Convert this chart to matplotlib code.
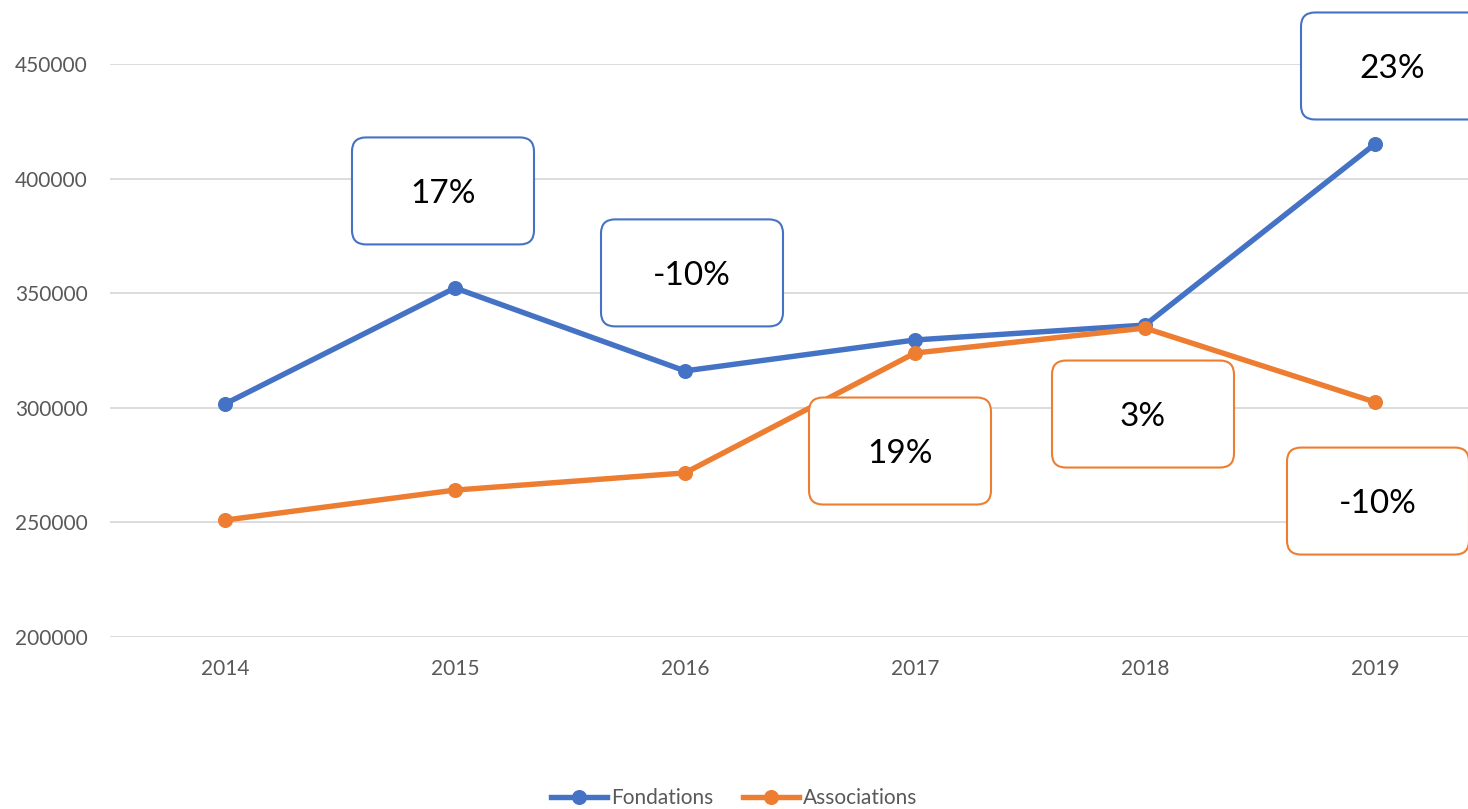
import numpy as np
import matplotlib.pyplot as plt
from matplotlib.patches import FancyBboxPatch
from matplotlib.transforms import IdentityTransform

years = ['2014', '2015', '2016', '2017', '2018', '2019']
fondations = [301700, 352300, 316100, 329600, 336100, 415100]
associations = [251000, 264100, 271600, 323900, 334800, 302500]
labels_fond = [None, '17%', '-10%', None, None, '23%']
labels_asso = [None, None, None, '19%', '3%', '-10%']

# position des bulles (pixels, par rapport au point)
off_fond = [None, (-12, 97), (7, 98), None, None, (17, 78)]
off_asso = [None, None, None, (-15, -98), (-2, -86), (3, -99)]

blue = '#4472C4'
orange = '#ED7D31'

plt.rcParams['font.family'] = ['Lato', 'DejaVu Sans']

fig = plt.figure(figsize=(14.68, 8.09), dpi=100)
ax = fig.add_axes([110 / 1468, 172 / 809, 1380 / 1468, 573 / 809])

x = np.arange(len(years))
ax.plot(x, fondations, color=blue, lw=3.9, marker='o', ms=9.8,
        label='Fondations', zorder=3, clip_on=False)
ax.plot(x, associations, color=orange, lw=3.9, marker='o', ms=9.8,
        label='Associations', zorder=3, clip_on=False)

ax.set_xlim(-0.5, 5.5)
ax.set_ylim(200000, 450000)
ax.set_xticks(x)
ax.set_xticklabels(years)
ax.set_yticks(range(200000, 450001, 50000))
ax.grid(axis='y', color='#D9D9D9', lw=1.3)
ax.set_axisbelow(True)
for s in ax.spines.values():
    s.set_visible(False)
ax.tick_params(axis='both', length=0, labelsize=15, colors='#595959')
ax.tick_params(axis='x', pad=16)
ax.tick_params(axis='y', pad=16)

# bulles avec les variations
def bubble(xi, yi, text, off, color):
    px, py = ax.transData.transform((xi, yi))
    cx, cy = px + off[0], py + off[1]
    w, h = 182, 107
    box = FancyBboxPatch((cx - w / 2, cy - h / 2), w, h,
                         boxstyle='round,pad=0,rounding_size=14',
                         transform=IdentityTransform(), facecolor='white',
                         edgecolor=color, lw=1.5, zorder=5, clip_on=False)
    ax.add_artist(box)
    ax.annotate(text, xy=(xi, yi), xytext=(off[0], off[1] - 3),
                textcoords='offset pixels', ha='center', va='center',
                fontsize=24, color='black', zorder=6, annotation_clip=False)

for i in range(len(years)):
    if labels_fond[i]:
        bubble(x[i], fondations[i], labels_fond[i], off_fond[i], blue)
    if labels_asso[i]:
        bubble(x[i], associations[i], labels_asso[i], off_asso[i], orange)

fig.legend(loc='center', bbox_to_anchor=(0.5, 11 / 809), ncol=2, frameon=False,
           fontsize=15, labelcolor='#595959', handlelength=2.7,
           handletextpad=0.2, columnspacing=1.4)

fig.savefig('out.png', dpi=100)
